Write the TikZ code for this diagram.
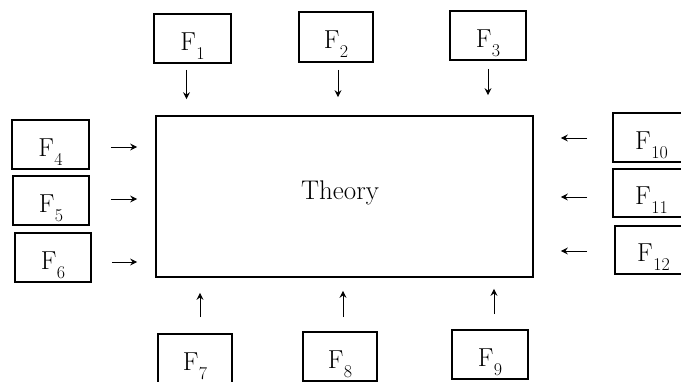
\documentclass[tikz,border=0pt]{standalone}
\usepackage{fontspec}
\usetikzlibrary{arrows.meta}
\newcommand{\fsub}[1]{F\kern0.5pt\raisebox{-9pt}{\fontsize{18}{18}\selectfont #1}}
\begin{document}
\begin{tikzpicture}[x=1pt,y=-1pt,
  fbox/.style={draw,line width=1.8pt,minimum width=76pt,minimum height=49pt,inner sep=0pt,
    text height=23pt,text depth=0pt,font=\fontsize{26}{28}\selectfont},
  thbox/.style={draw,line width=1.8pt,minimum width=377pt,minimum height=161pt,inner sep=0pt},
  arr/.style={line width=0.9pt,-{Stealth[length=7pt,width=7pt,inset=2.5pt]}}]
\useasboundingbox (0,0) rectangle (681,381);
\node[thbox] (Th) at (344.5,196.5) {};
\node[font=\fontsize{27}{30}\selectfont,anchor=base,inner sep=0pt] (tt) at (340,199) {Theory};
% top
\node[fbox,minimum width=77pt] (F1) at (192.5,38.5) {\fsub{1}};
\node[fbox,minimum width=74pt,minimum height=50pt] (F2) at (336,37) {\fsub{2}};
\node[fbox] (F3) at (488,35.5) {\fsub{3}};
% left
\node[fbox,minimum width=77pt] (F4) at (50.5,144.5) {\fsub{4}};
\node[fbox] (F5) at (51,200.5) {\fsub{5}};
\node[fbox] (F6) at (53,257.5) {\fsub{6}};
% right
\node[fbox,minimum width=77pt] (F10) at (651.5,137.5) {\fsub{10}};
\node[fbox,minimum width=77pt,minimum height=48pt] (F11) at (651.5,193) {\fsub{11}};
\node[fbox,minimum width=77pt,minimum height=48pt] (F12) at (653.5,250) {\fsub{12}};
% bottom
\node[fbox,minimum width=74pt] (F7) at (195,358.5) {\fsub{7}};
\node[fbox,minimum width=74pt] (F8) at (340,356.5) {\fsub{8}};
\node[fbox] (F9) at (490,354.5) {\fsub{9}};
% arrows top
\draw[arr,shorten <=6pt,shorten >=16pt] ([xshift=-6pt]F1.south) -- ([xshift=-6pt]F1.south |- Th.north);
\draw[arr,shorten <=7pt,shorten >=18pt] ([xshift=2pt]F2.south) -- ([xshift=2pt]F2.south |- Th.north);
\draw[arr,shorten <=8pt,shorten >=20pt] (F3.south) -- (F3.south |- Th.north);
% arrows left
\draw[arr,shorten <=21pt,shorten >=18pt] ([yshift=-2.5pt]F4.east) -- ([yshift=-2.5pt]F4.east -| Th.west);
\draw[arr,shorten <=21pt,shorten >=18pt] ([yshift=1.5pt]F5.east) -- ([yshift=1.5pt]F5.east -| Th.west);
\draw[arr,shorten <=20pt,shorten >=18pt] ([yshift=-4.5pt]F6.east) -- ([yshift=-4.5pt]F6.east -| Th.west);
% arrows right
\draw[arr,shorten <=25pt,shorten >=27pt] ([yshift=-0.5pt]F10.west) -- ([yshift=-0.5pt]F10.west -| Th.east);
\draw[arr,shorten <=25pt,shorten >=27pt] ([yshift=-4pt]F11.west) -- ([yshift=-4pt]F11.west -| Th.east);
\draw[arr,shorten <=27pt,shorten >=27pt] ([yshift=-1pt]F12.west) -- ([yshift=-1pt]F12.west -| Th.east);
% arrows bottom
\draw[arr,shorten <=16pt,shorten >=15pt] ([xshift=5pt]F7.north) -- ([xshift=5pt]F7.north |- Th.south);
\draw[arr,shorten <=14pt,shorten >=13pt] ([xshift=3pt]F8.north) -- ([xshift=3pt]F8.north |- Th.south);
\draw[arr,shorten <=15pt,shorten >=11pt] ([xshift=4pt]F9.north) -- ([xshift=4pt]F9.north |- Th.south);
\end{tikzpicture}
\end{document}
